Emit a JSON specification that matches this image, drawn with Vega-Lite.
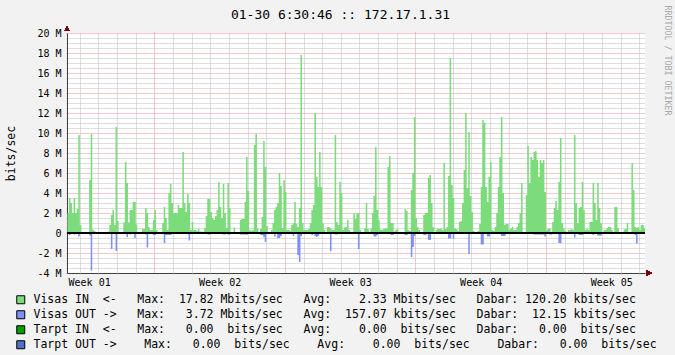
{
"$schema": "https://vega.github.io/schema/vega-lite/v6.json",
"width": 578, "height": 240,
"autosize": {"type": "none"},
"padding": {"left": 67, "top": 33, "right": 30, "bottom": 82},
"background": "#F2F2F2",
"data": {"values": [
{"hour":0,"in":2,"out":0},{"hour":2,"in":3.5,"out":-0.2},{"hour":4,"in":3,"out":0},{"hour":6,"in":2,"out":0},{"hour":8,"in":3.5,"out":-0.15},{"hour":10,"in":2,"out":0},{"hour":12,"in":2.4,"out":0},{"hour":14,"in":9.8,"out":-0.35},{"hour":16,"in":0.8,"out":0},{"hour":18,"in":0,"out":0},
{"hour":20,"in":0,"out":0},{"hour":22,"in":0,"out":0},{"hour":24,"in":0,"out":0},{"hour":26,"in":0.1,"out":0},{"hour":28,"in":5.3,"out":-0.25},{"hour":30,"in":9.9,"out":-3.75},{"hour":32,"in":0.35,"out":0},{"hour":34,"in":0.2,"out":0},{"hour":36,"in":0,"out":0},{"hour":38,"in":0,"out":0},
{"hour":40,"in":0,"out":0},{"hour":42,"in":0,"out":0},{"hour":44,"in":0,"out":0},{"hour":46,"in":0,"out":0},{"hour":48,"in":0,"out":0},{"hour":50,"in":0,"out":0},{"hour":52,"in":0.15,"out":0},{"hour":54,"in":0.8,"out":0},{"hour":56,"in":1.8,"out":-1.6},{"hour":58,"in":2.3,"out":0},
{"hour":60,"in":0.8,"out":0},{"hour":62,"in":10.6,"out":-1.8},{"hour":64,"in":1.2,"out":0},{"hour":66,"in":0.1,"out":0},{"hour":68,"in":0.05,"out":0},{"hour":70,"in":0,"out":0},{"hour":72,"in":1.05,"out":0},{"hour":74,"in":7.1,"out":0},{"hour":76,"in":5,"out":-0.4},{"hour":78,"in":1.05,"out":0},
{"hour":80,"in":2.3,"out":-0.15},{"hour":82,"in":2.3,"out":0},{"hour":84,"in":3.1,"out":0},{"hour":86,"in":3.1,"out":-0.5},{"hour":88,"in":0.85,"out":0},{"hour":90,"in":0,"out":0},{"hour":92,"in":0,"out":0},{"hour":94,"in":0,"out":0},{"hour":96,"in":0.4,"out":0},{"hour":98,"in":0.4,"out":0},
{"hour":100,"in":2.5,"out":-0.15},{"hour":102,"in":2,"out":-1.45},{"hour":104,"in":0.6,"out":0},{"hour":106,"in":0.3,"out":0},{"hour":108,"in":0.3,"out":0},{"hour":110,"in":1.3,"out":-0.2},{"hour":112,"in":2.3,"out":-0.2},{"hour":114,"in":0.3,"out":0},{"hour":116,"in":0.1,"out":0},{"hour":118,"in":0.1,"out":0},
{"hour":120,"in":0.1,"out":0},{"hour":122,"in":1,"out":0},{"hour":124,"in":2.6,"out":-1},{"hour":126,"in":1.5,"out":-0.2},{"hour":128,"in":0.3,"out":-0.2},{"hour":130,"in":4,"out":-0.2},{"hour":132,"in":4.9,"out":-0.2},{"hour":134,"in":3,"out":0},{"hour":136,"in":2,"out":0},{"hour":138,"in":2,"out":0},
{"hour":140,"in":2,"out":0},{"hour":142,"in":2.8,"out":0},{"hour":144,"in":2.5,"out":0},{"hour":146,"in":2.5,"out":0},{"hour":148,"in":8.1,"out":-0.1},{"hour":150,"in":3,"out":0},{"hour":152,"in":2.1,"out":0},{"hour":154,"in":3.9,"out":0},{"hour":156,"in":3,"out":-0.75},{"hour":158,"in":0.3,"out":0},
{"hour":160,"in":1.1,"out":0},{"hour":162,"in":0.3,"out":0},{"hour":164,"in":0.3,"out":0},{"hour":166,"in":0.2,"out":0},{"hour":168,"in":0.4,"out":0},{"hour":170,"in":0.15,"out":0},{"hour":172,"in":0.15,"out":0},{"hour":174,"in":0,"out":0},{"hour":176,"in":0.5,"out":0},{"hour":178,"in":1.7,"out":0},
{"hour":180,"in":3.4,"out":-0.15},{"hour":182,"in":3.4,"out":-0.15},{"hour":184,"in":2.1,"out":0},{"hour":186,"in":1.5,"out":0},{"hour":188,"in":1.3,"out":0},{"hour":190,"in":1.7,"out":0},{"hour":192,"in":2.3,"out":0},{"hour":194,"in":5.1,"out":-0.1},{"hour":196,"in":2.6,"out":0},{"hour":198,"in":1.5,"out":0},
{"hour":200,"in":4.9,"out":-0.15},{"hour":202,"in":2,"out":-0.15},{"hour":204,"in":0.5,"out":0},{"hour":206,"in":5,"out":-0.15},{"hour":208,"in":2.5,"out":-0.15},{"hour":210,"in":0,"out":0},{"hour":212,"in":0,"out":0},{"hour":214,"in":0.55,"out":0},{"hour":216,"in":0,"out":0},{"hour":218,"in":0,"out":0},
{"hour":220,"in":0,"out":0},{"hour":222,"in":1.3,"out":-0.15},{"hour":224,"in":1.4,"out":-0.15},{"hour":226,"in":1.4,"out":-0.15},{"hour":228,"in":3.1,"out":-0.15},{"hour":230,"in":7.6,"out":-0.2},{"hour":232,"in":4.2,"out":0},{"hour":234,"in":0.3,"out":0},{"hour":236,"in":0.2,"out":0},{"hour":238,"in":0.3,"out":0},
{"hour":240,"in":8.8,"out":0},{"hour":242,"in":9.9,"out":0},{"hour":244,"in":0.45,"out":0},{"hour":246,"in":0.1,"out":0},{"hour":248,"in":0.4,"out":-0.2},{"hour":250,"in":1.6,"out":-0.2},{"hour":252,"in":9.2,"out":-0.4},{"hour":254,"in":6.6,"out":-0.9},{"hour":256,"in":0.7,"out":0},{"hour":258,"in":0.1,"out":0},
{"hour":260,"in":0,"out":0},{"hour":262,"in":0.3,"out":0},{"hour":264,"in":1,"out":0},{"hour":266,"in":2.3,"out":-0.35},{"hour":268,"in":2.6,"out":0},{"hour":270,"in":3,"out":-0.5},{"hour":272,"in":6,"out":-0.5},{"hour":274,"in":4.7,"out":-0.3},{"hour":276,"in":0.5,"out":0},{"hour":278,"in":5.3,"out":0},
{"hour":280,"in":4.1,"out":0},{"hour":282,"in":0.3,"out":0},{"hour":284,"in":0.3,"out":0},{"hour":286,"in":0.2,"out":0},{"hour":288,"in":0.8,"out":0},{"hour":290,"in":1,"out":-0.3},{"hour":292,"in":3.1,"out":0},{"hour":294,"in":0.9,"out":0},{"hour":296,"in":0.6,"out":-2.2},{"hour":298,"in":2.5,"out":-2.9},
{"hour":300,"in":17.8,"out":-0.3},{"hour":302,"in":1,"out":0},{"hour":304,"in":0.3,"out":0},{"hour":306,"in":0.3,"out":0},{"hour":308,"in":0.3,"out":0},{"hour":310,"in":0.45,"out":0},{"hour":312,"in":1,"out":0},{"hour":314,"in":2.3,"out":-0.2},{"hour":316,"in":2.8,"out":0},{"hour":318,"in":12,"out":-0.3},
{"hour":320,"in":5.6,"out":-0.4},{"hour":322,"in":4.6,"out":-0.3},{"hour":324,"in":8.1,"out":0},{"hour":326,"in":4.6,"out":-0.1},{"hour":328,"in":1,"out":0},{"hour":330,"in":0.3,"out":0},{"hour":332,"in":0.1,"out":0},{"hour":334,"in":0.6,"out":0},{"hour":336,"in":0.6,"out":0},{"hour":338,"in":0.45,"out":-1.8},
{"hour":340,"in":0.3,"out":0},{"hour":342,"in":0.3,"out":0},{"hour":344,"in":9.8,"out":-0.15},{"hour":346,"in":1.1,"out":-0.15},{"hour":348,"in":0.8,"out":0},{"hour":350,"in":5.1,"out":0},{"hour":352,"in":4,"out":0},{"hour":354,"in":0.3,"out":0},{"hour":356,"in":0.55,"out":0},{"hour":358,"in":0.6,"out":0},
{"hour":360,"in":1.3,"out":0},{"hour":362,"in":0.3,"out":0},{"hour":364,"in":0.1,"out":0},{"hour":366,"in":0.1,"out":0},{"hour":368,"in":2,"out":0},{"hour":370,"in":1.4,"out":0},{"hour":372,"in":2,"out":-0.1},{"hour":374,"in":2,"out":-1.6},{"hour":376,"in":0.3,"out":-0.1},{"hour":378,"in":0.1,"out":0},
{"hour":380,"in":0.1,"out":0},{"hour":382,"in":0.45,"out":0},{"hour":384,"in":3,"out":0},{"hour":386,"in":0.45,"out":0},{"hour":388,"in":0.1,"out":0},{"hour":390,"in":0.45,"out":0},{"hour":392,"in":2,"out":0},{"hour":394,"in":3.7,"out":-0.35},{"hour":396,"in":8.6,"out":-0.35},{"hour":398,"in":2.3,"out":-0.2},
{"hour":400,"in":1.3,"out":0},{"hour":402,"in":0.35,"out":0},{"hour":404,"in":0.3,"out":0},{"hour":406,"in":0.4,"out":0},{"hour":408,"in":0.45,"out":0},{"hour":410,"in":0.45,"out":0},{"hour":412,"in":6.6,"out":0},{"hour":414,"in":7.7,"out":0},{"hour":416,"in":1,"out":-0.2},{"hour":418,"in":1,"out":-0.2},
{"hour":420,"in":0.15,"out":0},{"hour":422,"in":0.3,"out":0},{"hour":424,"in":0.4,"out":0},{"hour":426,"in":0.1,"out":0},{"hour":428,"in":0.05,"out":0},{"hour":430,"in":0,"out":0},{"hour":432,"in":0,"out":0},{"hour":434,"in":2.4,"out":-0.2},{"hour":436,"in":2.2,"out":-0.2},{"hour":438,"in":0.3,"out":0},
{"hour":440,"in":0.2,"out":0},{"hour":442,"in":4.3,"out":-2.4},{"hour":444,"in":6,"out":-1.4},{"hour":446,"in":11.6,"out":-0.3},{"hour":448,"in":1.5,"out":0},{"hour":450,"in":0.6,"out":0},{"hour":452,"in":0.3,"out":0},{"hour":454,"in":0.1,"out":0},{"hour":456,"in":0.1,"out":0},{"hour":458,"in":1.8,"out":-0.2},
{"hour":460,"in":2,"out":-0.2},{"hour":462,"in":2,"out":0},{"hour":464,"in":5.5,"out":-0.7},{"hour":466,"in":5.8,"out":-0.7},{"hour":468,"in":3,"out":0},{"hour":470,"in":0.6,"out":0},{"hour":472,"in":0.1,"out":0},{"hour":474,"in":0.3,"out":0},{"hour":476,"in":0.45,"out":0},{"hour":478,"in":0.4,"out":0},
{"hour":480,"in":0.45,"out":0},{"hour":482,"in":0.3,"out":0},{"hour":484,"in":7,"out":0},{"hour":486,"in":0.4,"out":0},{"hour":488,"in":0.6,"out":0},{"hour":490,"in":5.7,"out":-0.55},{"hour":492,"in":17.5,"out":-0.55},{"hour":494,"in":4.8,"out":0},{"hour":496,"in":3.5,"out":-0.55},{"hour":498,"in":0.45,"out":0},
{"hour":500,"in":0.4,"out":0},{"hour":502,"in":0.2,"out":0},{"hour":504,"in":1.1,"out":0},{"hour":506,"in":1.2,"out":0},{"hour":508,"in":3,"out":0},{"hour":510,"in":6.3,"out":-0.1},{"hour":512,"in":12,"out":-0.1},{"hour":514,"in":4.5,"out":-0.1},{"hour":516,"in":10.1,"out":-2.1},{"hour":518,"in":3.7,"out":0},
{"hour":520,"in":2.1,"out":0},{"hour":522,"in":0.2,"out":0},{"hour":524,"in":0.05,"out":0},{"hour":526,"in":0.1,"out":0},{"hour":528,"in":0.2,"out":0},{"hour":530,"in":0.9,"out":0},{"hour":532,"in":4.6,"out":-1.15},{"hour":534,"in":11.3,"out":-1.15},{"hour":536,"in":11,"out":0},{"hour":538,"in":4.6,"out":0},
{"hour":540,"in":3.1,"out":-0.35},{"hour":542,"in":5.6,"out":-0.35},{"hour":544,"in":7.1,"out":0},{"hour":546,"in":0.3,"out":0},{"hour":548,"in":0.2,"out":0},{"hour":550,"in":0.6,"out":0},{"hour":552,"in":2,"out":0},{"hour":554,"in":4.6,"out":0},{"hour":556,"in":7.6,"out":0},{"hour":558,"in":11.6,"out":-0.3},
{"hour":560,"in":4,"out":-0.3},{"hour":562,"in":0.8,"out":-0.3},{"hour":564,"in":0.9,"out":0},{"hour":566,"in":0.9,"out":0},{"hour":568,"in":0.3,"out":0},{"hour":570,"in":0.45,"out":0},{"hour":572,"in":0.6,"out":0},{"hour":574,"in":0.3,"out":0},{"hour":576,"in":0.3,"out":0},{"hour":578,"in":0.6,"out":0},
{"hour":580,"in":1,"out":0},{"hour":582,"in":2,"out":-0.1},{"hour":584,"in":5,"out":-0.1},{"hour":586,"in":0.1,"out":0},{"hour":588,"in":0.1,"out":0},{"hour":590,"in":3.8,"out":0},{"hour":592,"in":8.7,"out":-0.1},{"hour":594,"in":5,"out":0},{"hour":596,"in":7.6,"out":0},{"hour":598,"in":7.3,"out":0},
{"hour":600,"in":8.1,"out":-0.15},{"hour":602,"in":8.2,"out":-0.15},{"hour":604,"in":7.3,"out":-0.15},{"hour":606,"in":5.6,"out":-0.15},{"hour":608,"in":7.3,"out":-0.15},{"hour":610,"in":7,"out":-0.15},{"hour":612,"in":7.3,"out":-0.15},{"hour":614,"in":4.1,"out":-0.35},{"hour":616,"in":0.3,"out":0},{"hour":618,"in":0.45,"out":0},
{"hour":620,"in":0.45,"out":-0.15},{"hour":622,"in":0.1,"out":-0.15},{"hour":624,"in":1.1,"out":0},{"hour":626,"in":2.5,"out":0},{"hour":628,"in":3.2,"out":0},{"hour":630,"in":2.3,"out":0},{"hour":632,"in":5.1,"out":-1},{"hour":634,"in":9.5,"out":-1},{"hour":636,"in":1,"out":0},{"hour":638,"in":0.45,"out":0},
{"hour":640,"in":0.2,"out":0},{"hour":642,"in":0.1,"out":0},{"hour":644,"in":0.3,"out":0},{"hour":646,"in":0.3,"out":0},{"hour":648,"in":0.4,"out":0},{"hour":650,"in":0.3,"out":0},{"hour":652,"in":9.8,"out":-0.45},{"hour":654,"in":3,"out":0},{"hour":656,"in":1,"out":0},{"hour":658,"in":2.5,"out":-0.2},
{"hour":660,"in":2.6,"out":-0.2},{"hour":662,"in":5.1,"out":-0.2},{"hour":664,"in":2.3,"out":0},{"hour":666,"in":0.3,"out":0},{"hour":668,"in":0.45,"out":0},{"hour":670,"in":0.3,"out":0},{"hour":672,"in":1.1,"out":0},{"hour":674,"in":1.1,"out":0},{"hour":676,"in":5,"out":-0.2},{"hour":678,"in":3,"out":0},
{"hour":680,"in":1.3,"out":0},{"hour":682,"in":5,"out":-0.25},{"hour":684,"in":2.5,"out":-0.25},{"hour":686,"in":1,"out":-0.25},{"hour":688,"in":0.1,"out":0},{"hour":690,"in":0.3,"out":0},{"hour":692,"in":0.3,"out":0},{"hour":694,"in":0.5,"out":0},{"hour":696,"in":0.6,"out":0},{"hour":698,"in":0.6,"out":0},
{"hour":700,"in":0.3,"out":0},{"hour":702,"in":0.1,"out":0},{"hour":704,"in":2.6,"out":0},{"hour":706,"in":2.6,"out":0},{"hour":708,"in":0.5,"out":-0.1},{"hour":710,"in":0.1,"out":-0.1},{"hour":712,"in":0.05,"out":0},{"hour":714,"in":0.05,"out":0},{"hour":716,"in":0.35,"out":0},{"hour":718,"in":0.4,"out":0},
{"hour":720,"in":1,"out":0},{"hour":722,"in":0.1,"out":0},{"hour":724,"in":0.1,"out":0},{"hour":726,"in":7,"out":0},{"hour":728,"in":4.3,"out":0},{"hour":730,"in":0.6,"out":-0.2},{"hour":732,"in":0.5,"out":-1.05},{"hour":734,"in":0.6,"out":0},{"hour":736,"in":0.3,"out":0},{"hour":738,"in":0.8,"out":0},
{"hour":740,"in":0.8,"out":0},{"hour":742,"in":0.5,"out":0},{"hour":744,"in":0.5,"out":0}
]},
"layer": [
{
"mark": {"type": "area", "interpolate": "step-after", "clip": true, "opacity": 1, "strokeWidth": 0},
"encoding": {
"x": {"field": "hour", "type": "quantitative", "scale": {"domain": [-0.5, 743.5], "nice": false, "zero": false},
 "axis": {"orient": "bottom", "values": [28, 196, 364, 532, 700], "labelExpr": "'Week 0' + floor((datum.value + 140) / 168)", "grid": false, "ticks": false, "tickSize": 0, "domain": true, "domainColor": "#404040", "labelFont": "DejaVu Sans Mono", "labelFontSize": 10, "labelColor": "#000000", "labelPadding": 12, "labelBaseline": "alphabetic", "labelAlign": "center", "labelFlush": false, "labelOverlap": false, "title": null}},
"y": {"field": "in", "type": "quantitative", "scale": {"domain": [-4, 20], "nice": false, "zero": false},
 "axis": {"orient": "left", "values": [-3.5,-3,-2.5,-1.5,-1,-0.5,0.5,1,1.5,2.5,3,3.5,4.5,5,5.5,6.5,7,7.5,8.5,9,9.5,10.5,11,11.5,12.5,13,13.5,14.5,15,15.5,16.5,17,17.5,18.5,19,19.5], "grid": true, "gridColor": "#BDBDBD", "gridDash": [1, 1], "labels": false, "ticks": true, "tickSize": 2, "tickColor": "#BDBDBD", "tickDash": [1, 1], "domain": false, "title": null}},
"color": {"datum": "Visas IN", "type": "nominal",
 "scale": {"domain": ["Visas IN", "Visas OUT", "Tarpt IN", "Tarpt OUT"], "range": ["#7CDC7C", "#7F8EFA", "#009E00", "#5270C6"]},
 "legend": {"orient": "none", "legendX": -52, "legendY": 261, "direction": "vertical", "title": null, "padding": 0,
  "symbolType": "square", "symbolSize": 64, "symbolStrokeColor": "#000000", "symbolStrokeWidth": 1, "symbolOpacity": 1,
  "labelFont": "DejaVu Sans Mono", "labelFontSize": 11.5, "labelColor": "#000000", "labelOffset": 7, "labelLimit": 700, "rowPadding": 2,
  "encode": {"symbols": {"update": {"stroke": {"value": "#000000"}, "strokeWidth": {"value": 1}, "opacity": {"value": 1}}}},
  "labelExpr": "datum.label === 'Visas IN' ? 'Visas\u00a0IN\u00a0\u00a0<-\u00a0\u00a0\u00a0Max:\u00a0\u00a017.82\u00a0Mbits/sec\u00a0\u00a0\u00a0Avg:\u00a0\u00a0\u00a0\u00a02.33\u00a0Mbits/sec\u00a0\u00a0\u00a0Dabar:\u00a0120.20\u00a0kbits/sec' : datum.label === 'Visas OUT' ? 'Visas\u00a0OUT\u00a0->\u00a0\u00a0\u00a0Max:\u00a0\u00a0\u00a03.72\u00a0Mbits/sec\u00a0\u00a0\u00a0Avg:\u00a0\u00a0157.07\u00a0kbits/sec\u00a0\u00a0\u00a0Dabar:\u00a0\u00a012.15\u00a0kbits/sec' : datum.label === 'Tarpt IN' ? 'Tarpt\u00a0IN\u00a0\u00a0<-\u00a0\u00a0\u00a0Max:\u00a0\u00a0\u00a00.00\u00a0\u00a0bits/sec\u00a0\u00a0\u00a0Avg:\u00a0\u00a0\u00a0\u00a00.00\u00a0\u00a0bits/sec\u00a0\u00a0\u00a0Dabar:\u00a0\u00a0\u00a00.00\u00a0\u00a0bits/sec' : 'Tarpt\u00a0OUT\u00a0->\u00a0\u00a0\u00a0\u00a0Max:\u00a0\u00a0\u00a00.00\u00a0\u00a0bits/sec\u00a0\u00a0\u00a0\u00a0Avg:\u00a0\u00a0\u00a0\u00a00.00\u00a0\u00a0bits/sec\u00a0\u00a0\u00a0\u00a0Dabar:\u00a0\u00a0\u00a00.00\u00a0\u00a0bits/sec'"}}
}
},
{
"mark": {"type": "area", "interpolate": "step-after", "clip": true, "opacity": 1, "strokeWidth": 0},
"encoding": {
"x": {"field": "hour", "type": "quantitative", "scale": {"domain": [-0.5, 743.5], "nice": false, "zero": false},
 "axis": {"orient": "bottom", "values": [16,40,64,88,136,160,184,208,232,256,304,328,352,376,400,424,472,496,520,544,568,592,640,664,688,712,736], "grid": true, "gridColor": "#BDBDBD", "gridDash": [1, 1], "labels": false, "ticks": true, "tickSize": 2, "tickColor": "#BDBDBD", "tickDash": [1, 1], "domain": false, "title": null}},
"y": {"field": "out", "type": "quantitative", "scale": {"domain": [-4, 20], "nice": false, "zero": false},
 "axis": {"orient": "left", "values": [-4,-2,0,2,4,6,8,10,12,14,16,18,20], "labelExpr": "datum.value === 0 ? '0' : datum.value + ' M'", "grid": true, "gridColor": "#E69292", "gridDash": [1, 1], "ticks": true, "tickSize": 2, "tickColor": "#E69292", "tickDash": [1, 1], "domain": true, "domainColor": "#404040", "labelFont": "DejaVu Sans Mono", "labelFontSize": 10, "labelColor": "#000000", "labelPadding": 4, "labelBaseline": "middle", "labelAlign": "right", "labelFlush": false, "labelOverlap": false,
  "title": "bits/sec", "titleFont": "DejaVu Sans Mono", "titleFontSize": 11.5, "titleFontWeight": "normal", "titleColor": "#000000", "titleX": -56, "titleY": 120, "titleAngle": -90, "titleAlign": "center", "titleBaseline": "middle"}},
"color": {"datum": "Visas OUT", "type": "nominal", "scale": {"domain": ["Visas IN", "Visas OUT", "Tarpt IN", "Tarpt OUT"], "range": ["#7CDC7C", "#7F8EFA", "#009E00", "#5270C6"]}}
}
},
{
"mark": {"type": "rule", "color": "#000000", "strokeWidth": 2},
"encoding": {
"y": {"datum": 0, "type": "quantitative", "scale": {"domain": [-4, 20], "nice": false, "zero": false},
 "axis": {"orient": "right", "labels": false, "ticks": false, "domain": false, "grid": false, "title": "RRDTOOL / TOBI OETIKER", "titleFont": "DejaVu Sans Mono", "titleFontSize": 8.3, "titleFontWeight": "normal", "titleColor": "#A8A8A8", "titleAngle": 90, "titleAlign": "left", "titleBaseline": "middle", "titleX": 21, "titleY": -28}}
}
},
{
"mark": {"type": "point", "shape": "triangle-up", "size": 28, "filled": true, "color": "#7F0000", "opacity": 1},
"encoding": {
"x": {"datum": -0.5, "type": "quantitative", "scale": {"domain": [-0.5, 743.5], "nice": false, "zero": false},
 "axis": {"orient": "top", "values": [112, 280, 448, 616], "grid": true, "gridColor": "#E69292", "gridDash": [1, 1], "labels": false, "ticks": true, "tickSize": 2, "tickColor": "#E69292", "tickDash": [1, 1], "domain": false,
  "title": "01-30 6:30:46 :: 172.17.1.31", "titleFont": "DejaVu Sans Mono", "titleFontSize": 13, "titleFontWeight": "normal", "titleColor": "#000000", "titleX": 273, "titleY": -14.7, "titleAngle": 0, "titleAlign": "center", "titleBaseline": "alphabetic"}},
"y": {"datum": 20.43, "type": "quantitative", "scale": {"domain": [-4, 20], "nice": false, "zero": false}, "axis": null}
}
},
{
"mark": {"type": "point", "shape": "triangle-right", "size": 28, "filled": true, "color": "#7F0000", "opacity": 1},
"encoding": {
"x": {"datum": 748.6, "type": "quantitative", "scale": {"domain": [-0.5, 743.5], "nice": false, "zero": false}, "axis": null},
"y": {"datum": -4, "type": "quantitative", "scale": {"domain": [-4, 20], "nice": false, "zero": false}, "axis": null}
}
}
],
"resolve": {"axis": {"x": "independent", "y": "independent"}},
"config": {
"font": "DejaVu Sans Mono",
"view": {"fill": "#FFFFFF", "stroke": null}
}
}
